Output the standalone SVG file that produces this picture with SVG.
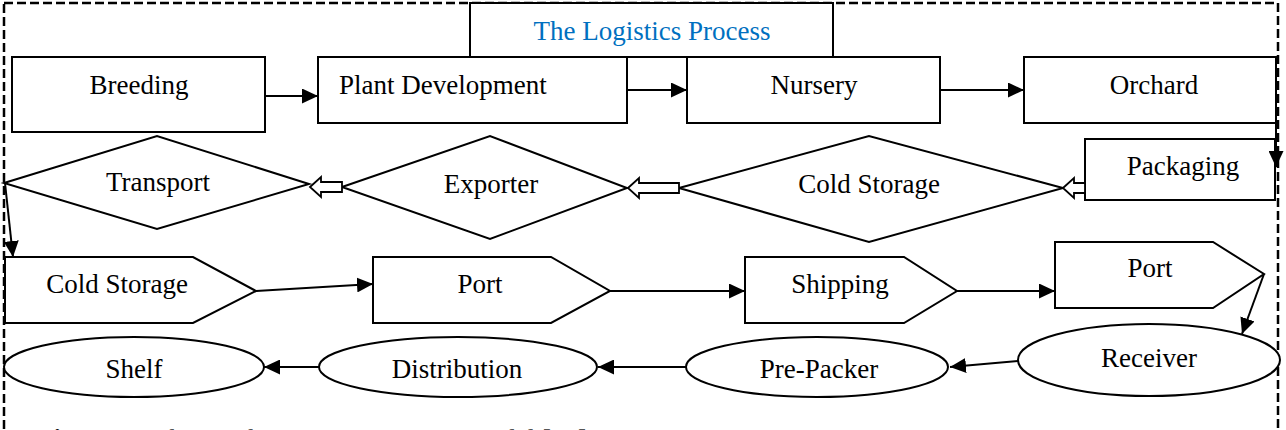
<svg xmlns="http://www.w3.org/2000/svg" width="1286" height="430" viewBox="0 0 1286 430">
  <style>
    .shape { fill: #ffffff; stroke: #000000; stroke-width: 2; }
    .lbl { font-family: "Liberation Serif", "Times New Roman", serif; font-size: 27px; fill: #000000; text-anchor: middle; }
    .conn { fill: none; stroke: #000000; stroke-width: 2; }
    .hollow { fill: #ffffff; stroke: #000000; stroke-width: 1.8; stroke-linejoin: miter; }
  </style>
  <defs>
    <marker id="arrow" markerUnits="userSpaceOnUse" markerWidth="16" markerHeight="15" refX="16" refY="7.5" orient="auto" viewBox="0 0 16 15">
      <path d="M0,0 L16,7.5 L0,15 Z" fill="#000000"/>
    </marker>
  </defs>
  <rect width="1286" height="430" fill="#ffffff"/>

  <!-- outer dashed frame -->
  <rect id="frame" x="4" y="3" width="1274" height="460" fill="none" stroke="#000000" stroke-width="2.5" stroke-dasharray="9 4"/>

  <g id="title">
    <rect class="shape" x="470" y="3" width="363" height="54"/>
    <text class="lbl" x="652" y="40" style="fill:#0070C0">The Logistics Process</text>
  </g>

  <g id="breeding">
    <rect class="shape" x="12" y="57" width="253" height="75"/>
    <text class="lbl" x="139" y="94">Breeding</text>
  </g>
  <g id="plant-development">
    <rect class="shape" x="318" y="57" width="309" height="66"/>
    <text class="lbl" x="339" y="94" style="text-anchor:start">Plant Development</text>
  </g>
  <g id="nursery">
    <rect class="shape" x="687" y="57" width="253" height="66"/>
    <text class="lbl" x="814" y="94">Nursery</text>
  </g>
  <g id="orchard">
    <rect class="shape" x="1024" y="57" width="252" height="66"/>
    <text class="lbl" x="1154" y="94">Orchard</text>
  </g>

  <g id="packaging">
    <rect class="shape" x="1085" y="139" width="190" height="61"/>
    <text class="lbl" x="1183" y="175">Packaging</text>
  </g>
  <g id="cold-storage-1">
    <polygon class="shape" points="679,188 869,136 1063,188 869,242"/>
    <text class="lbl" x="869" y="193">Cold Storage</text>
  </g>
  <g id="exporter">
    <polygon class="shape" points="342,187 490,136 627,188 490,239"/>
    <text class="lbl" x="491" y="193">Exporter</text>
  </g>
  <g id="transport">
    <polygon class="shape" points="4,183 157,136 309,184 157,229"/>
    <text class="lbl" x="158" y="191">Transport</text>
  </g>

  <g id="cold-storage-2">
    <polygon class="shape" points="5,257 193,257 256,291 193,323 5,323"/>
    <text class="lbl" x="117" y="293">Cold Storage</text>
  </g>
  <g id="port-1">
    <polygon class="shape" points="373,257 551,257 610,291 551,323 373,323"/>
    <text class="lbl" x="480" y="293">Port</text>
  </g>
  <g id="shipping">
    <polygon class="shape" points="745,257 904,257 957,291 904,323 745,323"/>
    <text class="lbl" x="840" y="293">Shipping</text>
  </g>
  <g id="port-2">
    <polygon class="shape" points="1055,242 1213,242 1264,274 1213,308 1055,308"/>
    <text class="lbl" x="1150" y="277">Port</text>
  </g>

  <g id="receiver">
    <ellipse class="shape" cx="1149" cy="360" rx="131" ry="36"/>
    <text class="lbl" x="1149" y="367">Receiver</text>
  </g>
  <g id="pre-packer">
    <ellipse class="shape" cx="817" cy="367" rx="131" ry="30"/>
    <text class="lbl" x="819" y="378">Pre-Packer</text>
  </g>
  <g id="distribution">
    <ellipse class="shape" cx="458" cy="367" rx="139" ry="30"/>
    <text class="lbl" x="457" y="378">Distribution</text>
  </g>
  <g id="shelf">
    <ellipse class="shape" cx="134" cy="367" rx="130" ry="30"/>
    <text class="lbl" x="134" y="378">Shelf</text>
  </g>

  <g id="connectors">
    <path class="conn" d="M265,96 L318,96" marker-end="url(#arrow)"/>
    <path class="conn" d="M627,90 L687,90" marker-end="url(#arrow)"/>
    <path class="conn" d="M940,90 L1024,90" marker-end="url(#arrow)"/>
    <path class="conn" d="M1276,123 L1276,167" marker-end="url(#arrow)"/>
    <polygon class="hollow" points="1063,188 1074,178 1074,183 1085,183 1085,193 1074,193 1074,198"/>
    <polygon class="hollow" points="628,188 639,178 639,183 679,183 679,193 639,193 639,198"/>
    <polygon class="hollow" points="310,187 321,177 321,182 342,182 342,192 321,192 321,197"/>
    <path class="conn" d="M5,183 L13,257" marker-end="url(#arrow)"/>
    <path class="conn" d="M256,291 L373,284" marker-end="url(#arrow)"/>
    <path class="conn" d="M610,291 L745,291" marker-end="url(#arrow)"/>
    <path class="conn" d="M957,291 L1055,291" marker-end="url(#arrow)"/>
    <path class="conn" d="M1264,274 L1242,334" marker-end="url(#arrow)"/>
    <path class="conn" d="M1018,361 L950,367" marker-end="url(#arrow)"/>
    <path class="conn" d="M686,367 L598,367" marker-end="url(#arrow)"/>
    <path class="conn" d="M319,367 L264,367" marker-end="url(#arrow)"/>
  </g>

  <text x="37" y="448" style="font-family:'Liberation Serif','Times New Roman',serif;font-size:27px;fill:#000000"><tspan font-weight="bold">Figure 3.</tspan><tspan x="153" fill="#555555">The Fresh Fruit</tspan><tspan x="425" fill="#555555">SC Model [17]</tspan></text>
</svg>
